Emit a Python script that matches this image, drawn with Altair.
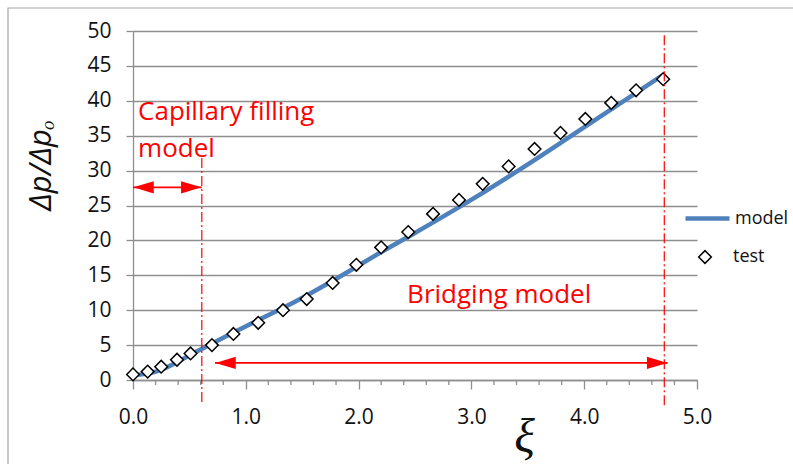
import altair as alt
import pandas as pd

# test data (diamonds)
test_x = [0.0, 0.13, 0.25, 0.39, 0.51, 0.70, 0.89, 1.11, 1.33, 1.54, 1.77, 1.98,
          2.20, 2.44, 2.66, 2.89, 3.10, 3.33, 3.56, 3.79, 4.01, 4.24, 4.46, 4.70]
test_y = [0.8, 1.2, 1.9, 2.9, 3.8, 5.0, 6.6, 8.2, 10.0, 11.6, 13.9, 16.5,
          19.0, 21.2, 23.8, 25.8, 28.1, 30.6, 33.1, 35.4, 37.4, 39.7, 41.5, 43.1]

# model curve
model_x = [0.0, 0.13, 0.25, 0.39, 0.505, 0.70, 0.89, 1.11, 1.33, 1.54, 1.77, 1.98,
           2.20, 2.45, 2.90, 3.34, 3.785, 4.23, 4.465, 4.69]
model_y = [0.7, 0.85, 1.4, 2.5, 3.6, 5.2, 6.8, 8.6, 10.3, 12.1, 14.2, 16.2,
           18.35, 20.6, 24.8, 29.2, 33.9, 38.7, 41.2, 43.6]

x_major = [0, 1, 2, 3, 4, 5]
x_minor = [0.2, 0.4, 0.6, 0.8, 1.2, 1.4, 1.6, 1.8, 2.2, 2.4, 2.6, 2.8,
           3.2, 3.4, 3.6, 3.8, 4.2, 4.4, 4.6, 4.8]
y_ticks = [0, 5, 10, 15, 20, 25, 30, 35, 40, 45, 50]

# annotations (data coordinates)
vline_x = [0.61, 4.71]
vline_top = [31.8, 49.4]
vline_bottom = [-3.2, -3.9]
arrow_y = [27.6, 2.45]
arrow_from = [0.0, 0.727]
arrow_to = [0.61, 4.74]
labels_text = ["Capillary filling\nmodel", "Bridging model"]
labels_x = [0.045, 2.43]
labels_y = [37.2, 11.0]

RED = "#ff0000"
GRID = "#8e8e8e"
FONT = "Open Sans"

model_df = pd.DataFrame({"x": model_x, "y": model_y, "s": "model"})
test_df = pd.DataFrame({"x": test_x, "y": test_y, "s": "test"})
minor_df = pd.DataFrame({"x": x_minor})
vline_df = pd.DataFrame({"x": vline_x, "y": vline_top, "y2": vline_bottom})
shaft_df = pd.DataFrame({"x": arrow_from, "x2": arrow_to, "y": arrow_y})
heads_left = pd.DataFrame({"x": arrow_from, "y": arrow_y})
heads_right = pd.DataFrame({"x": arrow_to, "y": arrow_y})
label_df = pd.DataFrame({"t": labels_text, "x": labels_x, "y": labels_y})

xscale = alt.Scale(domain=[0, 5], nice=False, zero=False)
yscale = alt.Scale(domain=[0, 50], nice=False)

xaxis = alt.Axis(values=x_major, format=".1f", grid=False, tickSize=9, tickColor=GRID,
                 tickWidth=1.3, domainColor=GRID, domainWidth=1.3, labelFontSize=21,
                 labelFont=FONT, labelColor="#111111", labelPadding=17,
                 labelFlush=False, labelOverlap=False,
                 title="ξ", titleFont="Liberation Serif", titleFontStyle="italic",
                 titleFontWeight="normal", titleFontSize=48, titleX=391, titleY=71,
                 titleBaseline="alphabetic", titleAlign="center", titleColor="#111111")
yaxis = alt.Axis(values=y_ticks, grid=True, gridColor=GRID, gridWidth=1.3, tickSize=7,
                 tickColor=GRID, tickWidth=1.3, domainColor=GRID, domainWidth=1.3,
                 labelFontSize=21, labelFont=FONT, labelColor="#111111", labelPadding=15,
                 labelFlush=False, labelOverlap=False,
                 title="Δp/Δpₒ", titleFont=FONT, titleFontStyle="italic",
                 titleFontWeight="normal", titleFontSize=31, titleAngle=270,
                 titleX=-83, titleY=134, titleBaseline="alphabetic", titleAlign="center",
                 titleColor="#111111")

X = alt.X("x:Q", scale=xscale, axis=xaxis)
Y = alt.Y("y:Q", scale=yscale, axis=yaxis)

frame = alt.Chart(pd.DataFrame({"k": [0]})).mark_rect(
    fill=None, stroke="#a6a6a6", strokeWidth=1.2
).encode(x=alt.value(-125), x2=alt.value(800), y=alt.value(-23), y2=alt.value(500))

minor = alt.Chart(minor_df).mark_rule(color=GRID, strokeWidth=1.3, y2Offset=5).encode(
    x=X,
    y=alt.datum(0, scale=yscale, axis=yaxis, type="quantitative"), y2=alt.datum(0)
)

line = alt.Chart(model_df).mark_line(strokeWidth=4.5, strokeCap="round",
                                     interpolate="basis").encode(
    x=X, y=Y,
    color=alt.Color("s:N", scale=alt.Scale(domain=["model"], range=["#4f81bd"]),
                    legend=alt.Legend(title=None, orient="none", legendX=550, legendY=163,
                                      symbolType="stroke", symbolSize=1936,
                                      symbolStrokeWidth=4.5, labelFontSize=18,
                                      labelFont=FONT, labelColor="#111111",
                                      labelOffset=3, padding=0))
)

pts = alt.Chart(test_df).mark_point(shape="diamond", filled=True, fill="white",
                                    stroke="black", strokeWidth=1.5, size=160,
                                    opacity=1).encode(x=X, y=Y)

# legend entry for the test series
leg_pt = alt.Chart(test_df.head(1)).mark_point(
    shape="diamond", filled=True, fill="white", stroke="black", strokeWidth=1.5,
    size=160, opacity=1
).encode(x=alt.value(572), y=alt.value(226))
leg_txt = alt.Chart(test_df.head(1)).mark_text(
    align="left", baseline="middle", fontSize=18, font=FONT, color="#111111"
).encode(x=alt.value(600), y=alt.value(226), text="s:N")

vlines = alt.Chart(vline_df).mark_rule(color=RED, strokeWidth=1.2,
                                       strokeDash=[10, 3, 2, 3]).encode(
    x=X, y=Y, y2="y2:Q"
)

shafts = alt.Chart(shaft_df).mark_rule(color=RED, strokeWidth=1.6).encode(
    x=X, x2="x2:Q", y=Y
)

lhead = alt.Chart(heads_left).mark_point(shape="M-1,0L1,-0.6L1,0.6Z", filled=True,
                                         color=RED, size=420, opacity=1).encode(
    x=X, y=Y, xOffset=alt.value(10.5)
)
rhead = alt.Chart(heads_right).mark_point(shape="M1,0L-1,-0.6L-1,0.6Z", filled=True,
                                          color=RED, size=420, opacity=1).encode(
    x=X, y=Y, xOffset=alt.value(-10.5)
)

labels = alt.Chart(label_df).mark_text(align="left", baseline="alphabetic", color=RED,
                                       fontSize=26, font=FONT, lineBreak="\n",
                                       lineHeight=37).encode(
    x=X, y=Y, text="t:N"
)

chart = alt.layer(frame, minor, line, pts, vlines, shafts, lhead, rhead, labels,
                  leg_pt, leg_txt).properties(
    width=564, height=349,
    autosize=alt.AutoSizeParams(type="none"),
    padding={"left": 133, "top": 31, "right": 96, "bottom": 84},
    background="white",
).configure_view(stroke=None)

chart.save("out.html", embed_options={"renderer": "svg", "actions": False})
